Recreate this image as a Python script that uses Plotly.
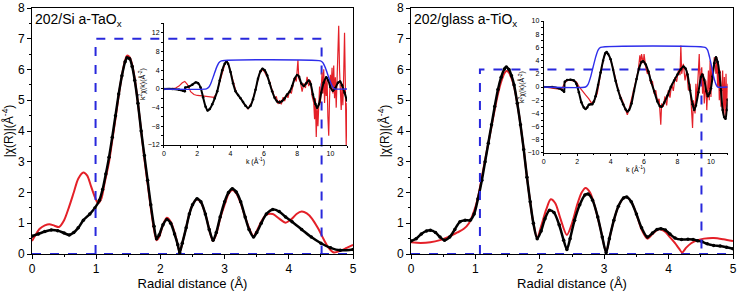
import plotly.graph_objects as go

# ---------------- Main R-space panel data ----------------
# Left panel: 202/Si a-TaOx
rL_data = [0,0.1,0.2,0.3,0.4,0.5,0.58,0.65,0.72,0.8,0.9,0.98,1.05,1.1,1.15,1.2,1.25,1.3,1.35,1.4,1.45,1.48,1.52,1.56,1.6,1.65,1.7,1.75,1.8,1.85,1.9,1.94,1.98,2.04,2.1,2.16,2.22,2.27,2.3,2.34,2.4,2.45,2.5,2.57,2.63,2.7,2.76,2.82,2.87,2.93,3.0,3.06,3.12,3.18,3.25,3.32,3.38,3.45,3.5,3.57,3.65,3.75,3.85,3.95,4.05,4.2,4.35,4.5,4.65,4.8,5.0]
yL_data = [0.58,0.65,0.73,0.78,0.76,0.68,0.62,0.7,0.85,1.1,1.3,1.5,1.75,2.1,2.6,3.15,3.8,4.5,5.2,5.8,6.25,6.38,6.35,6.1,5.65,4.9,4.0,3.2,2.4,1.6,0.9,0.5,0.62,0.95,1.12,1.0,0.65,0.3,0.05,0.35,0.85,1.3,1.6,1.8,1.7,1.3,0.8,0.45,0.7,1.2,1.7,2.0,2.12,2.02,1.7,1.2,0.8,0.55,0.7,1.0,1.3,1.45,1.38,1.2,1.05,0.8,0.55,0.35,0.2,0.12,0.15]
rL_fit = [0,0.05,0.12,0.2,0.27,0.35,0.42,0.5,0.58,0.65,0.72,0.8,0.86,0.92,0.98,1.03,1.08,1.13,1.2,1.25,1.3,1.35,1.4,1.45,1.48,1.52,1.56,1.6,1.65,1.7,1.75,1.8,1.85,1.9,1.94,1.98,2.04,2.1,2.16,2.22,2.27,2.3,2.34,2.4,2.45,2.5,2.57,2.63,2.7,2.76,2.82,2.87,2.93,3.0,3.06,3.12,3.18,3.25,3.32,3.38,3.45,3.5,3.57,3.65,3.75,3.85,3.95,4.05,4.12,4.2,4.28,4.36,4.45,4.55,4.62,4.7,4.8,4.9,5.0]
yL_fit = [0.42,0.6,0.82,0.93,0.97,0.92,0.88,1.1,1.55,2.0,2.45,2.65,2.55,2.2,1.85,1.65,1.8,2.3,3.0,3.7,4.4,5.15,5.8,6.3,6.45,6.4,6.15,5.7,4.9,4.0,3.1,2.3,1.5,0.8,0.45,0.55,0.95,1.18,1.05,0.7,0.3,0.05,0.35,0.85,1.3,1.6,1.78,1.68,1.3,0.8,0.42,0.65,1.15,1.6,1.95,2.08,1.98,1.65,1.2,0.85,0.58,0.75,1.05,1.28,1.3,1.15,1.02,1.15,1.3,1.38,1.32,1.15,0.85,0.45,0.2,0.05,0.1,0.2,0.3]
winL_x = [0.99, 0.99, 4.51, 4.51]
winL_y = [0, 7, 7, 0]

# Right panel: 202/glass a-TiOx
rR_data = [0,0.08,0.16,0.24,0.3,0.38,0.45,0.52,0.6,0.68,0.76,0.84,0.92,0.98,1.04,1.1,1.15,1.2,1.25,1.3,1.35,1.4,1.45,1.48,1.52,1.56,1.6,1.65,1.7,1.75,1.8,1.85,1.9,1.96,2.02,2.08,2.15,2.22,2.3,2.37,2.42,2.47,2.54,2.62,2.7,2.75,2.82,2.9,2.97,3.03,3.08,3.15,3.22,3.3,3.35,3.42,3.5,3.58,3.67,3.75,3.82,3.88,3.95,4.02,4.1,4.2,4.3,4.38,4.45,4.52,4.6,4.7,4.8,4.9,5.0]
yR_data = [0.42,0.5,0.65,0.75,0.77,0.7,0.55,0.45,0.55,0.8,1.05,1.1,1.1,1.3,1.8,2.4,3.0,3.6,4.2,4.8,5.35,5.75,6.02,6.08,6.0,5.8,5.5,4.9,4.2,3.4,2.5,1.7,1.0,0.5,0.75,1.15,1.42,1.35,0.95,0.45,0.15,0.5,1.1,1.6,1.92,1.95,1.75,1.2,0.55,0.05,0.5,1.1,1.55,1.82,1.85,1.7,1.3,0.85,0.55,0.68,0.8,0.82,0.78,0.65,0.52,0.47,0.48,0.47,0.43,0.4,0.33,0.28,0.26,0.22,0.17]
rR_fit = [0,0.15,0.3,0.45,0.6,0.72,0.82,0.9,0.98,1.04,1.1,1.15,1.2,1.25,1.3,1.35,1.4,1.45,1.48,1.52,1.56,1.6,1.65,1.7,1.75,1.8,1.85,1.9,1.96,2.02,2.1,2.17,2.24,2.32,2.42,2.5,2.58,2.65,2.71,2.78,2.86,2.95,3.03,3.08,3.15,3.22,3.3,3.35,3.42,3.5,3.58,3.67,3.75,3.82,3.88,3.95,4.02,4.1,4.16,4.21,4.27,4.35,4.45,4.55,4.7,4.85,5.0]
yR_fit = [0.38,0.36,0.38,0.45,0.57,0.7,0.82,1.0,1.4,1.85,2.5,3.05,3.6,4.15,4.7,5.2,5.6,5.88,5.95,5.9,5.72,5.45,4.9,4.2,3.4,2.5,1.7,1.0,0.52,0.9,1.45,1.78,1.65,1.15,0.62,1.0,1.6,2.0,2.15,2.0,1.5,0.75,0.05,0.5,1.1,1.55,1.82,1.85,1.7,1.3,0.8,0.5,0.65,0.78,0.8,0.72,0.55,0.35,0.18,0.05,0.2,0.35,0.45,0.5,0.52,0.48,0.42]
winR_x = [1.07, 1.07, 4.51, 4.51]
winR_y = [0, 6, 6, 0]

# ---------------- Inset k-space data ----------------
kL_data = [0,0.4,0.7,0.9,1.1,1.25,1.4,1.6,1.8,2.0,2.3,2.6,2.8,3.0,3.15,3.3,3.5,3.65,3.78,3.9,4.05,4.2,4.35,4.5,4.65,4.8,4.95,5.05,5.15,5.3,5.45,5.6,5.75,5.85,5.95,6.05,6.15,6.25,6.35,6.45,6.55,6.65,6.75,6.85,6.95,7.05,7.15,7.25,7.35,7.45,7.55,7.65,7.75,7.85,7.95,8.0,8.05,8.1,8.2,8.3,8.4,8.5,8.6,8.7,8.8,8.9,9.0,9.05,9.1,9.15,9.2,9.25,9.3,9.35,9.4,9.5,9.55,9.6,9.65,9.7,9.75,9.8,9.85,9.9,9.95,10.0,10.05,10.1,10.15,10.2,10.25,10.3,10.35,10.4,10.45,10.5,10.55,10.6,10.65,10.7,10.75,10.8,10.85,10.9,10.95,11.0]
cL_data = [0,0,0.2,0.6,1.3,1.6,1.0,-0.6,-1.2,-1.4,-1.5,-1.6,-1.8,-1.8,-1.0,0.8,3.5,5.2,6.0,5.0,3.0,0.8,-0.8,-1.6,-2.2,-3.2,-3.9,-4.3,-3.6,-2.8,-0.8,1.6,3.4,3.8,4.1,3.6,3.0,2.2,1.6,0.2,-0.6,-2.0,-1.6,-3.2,-2.4,-3.3,-1.8,-2.6,-1.2,-1.9,-0.3,-1.0,0.8,2.4,1.6,3.8,6.2,2.2,1.5,-0.6,1.2,0.2,2.6,0.6,1.8,-1.5,-3.0,-6.5,-2.0,-10.3,-3.5,-8.0,-4.5,0.5,-3.0,3.5,-1.0,4.2,-3.0,2.0,-1.5,2.5,-6.0,-10.0,-2.0,3.0,0.5,4.5,-1.0,5.0,-2.0,2.5,-4.0,0.5,7.0,13.5,4.0,-2.0,-4.5,1.0,-3.5,3.0,12.0,0.5,-12.0,-3.0]
kL_fit = [0,0.5,0.9,1.15,1.25,1.28,1.5,1.7,1.9,2.05,2.2,2.35,2.5,2.62,2.75,2.9,3.05,3.2,3.35,3.5,3.65,3.75,3.85,4.0,4.15,4.3,4.45,4.6,4.75,4.9,5.05,5.2,5.35,5.5,5.65,5.8,5.92,6.05,6.2,6.35,6.5,6.65,6.8,6.95,7.1,7.25,7.4,7.55,7.7,7.85,8.0,8.12,8.25,8.4,8.55,8.7,8.82,8.95,9.1,9.2,9.32,9.45,9.6,9.75,9.88,10.0,10.15,10.3,10.45,10.58,10.7,10.85,11.0]
cL_fit = [0,0,-0.2,-0.4,-0.5,0.3,0.5,0.9,1.4,1.2,0.3,-1.8,-3.8,-4.6,-4.3,-3.3,-2.0,-0.5,1.8,4.0,5.4,5.8,5.4,3.6,1.2,-0.5,-1.3,-2.0,-2.8,-3.6,-4.1,-3.6,-2.2,-0.2,2.2,3.8,4.3,4.0,2.9,1.2,-0.5,-1.9,-2.7,-2.9,-2.6,-2.0,-1.2,-0.6,0.6,2.2,3.0,2.6,1.2,0.6,1.2,1.8,1.0,-1.2,-3.2,-4.0,-3.2,-0.8,1.4,2.5,1.8,0.4,-0.4,0.2,1.3,1.6,0.8,-0.8,-2.5]
kL_win = [0,2.55,2.7,2.85,3.0,3.15,3.3,3.45,9.4,9.55,9.7,9.85,10.0,10.15,10.25,11]
wL_win = [0,0,0.4,1.5,3.0,4.5,5.6,6,6,5.6,4.5,3.0,1.5,0.4,0,0]

kR_data = [0,0.4,0.8,1.1,1.25,1.45,1.7,1.95,2.1,2.3,2.5,2.7,2.85,3.0,3.2,3.4,3.6,3.75,3.9,4.1,4.3,4.5,4.7,4.9,5.0,5.1,5.3,5.5,5.65,5.75,5.8,5.85,5.95,6.0,6.1,6.2,6.3,6.4,6.5,6.6,6.7,6.8,6.9,7.0,7.05,7.15,7.25,7.35,7.45,7.55,7.65,7.75,7.85,7.95,8.05,8.15,8.2,8.25,8.35,8.45,8.55,8.65,8.75,8.85,8.9,8.95,9.05,9.1,9.15,9.25,9.3,9.35,9.45,9.5,9.55,9.6,9.7,9.75,9.8,9.85,9.9,9.95,10.0,10.05,10.1,10.2,10.3,10.35,10.4,10.45,10.5,10.55,10.6,10.7,10.75,10.8,10.85,10.9,10.95,11.0]
cR_data = [0,-0.1,-0.3,-0.2,0.6,1.1,1.0,0.8,0.1,-0.6,-1.2,-1.8,-2.4,-2.2,-1.0,2.0,4.6,5.3,4.8,3.3,1.0,-0.9,-2.0,-3.4,-4.2,-3.4,-1.5,0.8,2.5,4.8,3.5,5.0,3.6,5.0,3.0,2.0,2.4,0.5,0.9,-1.0,-0.5,-2.2,-1.8,-5.7,-2.5,-3.0,-1.4,-2.8,-0.5,-1.6,0.5,-0.6,1.5,0.8,2.5,1.8,6.3,2.0,3.5,1.0,2.5,-0.5,0.5,-3.0,-6.2,-2.0,-4.0,0.5,-2.0,2.5,5.0,0.5,3.0,-1.0,2.0,-2.5,1.0,-3.5,-1.0,2.5,-2.0,4.0,-1.5,3.0,1.0,4.5,2.0,4.5,0.0,3.5,-2.0,2.5,-3.0,2.5,-4.0,1.5,-4.5,2.0,-3.0,0.5]
kR_fit = [0,0.5,0.9,1.1,1.22,1.26,1.4,1.6,1.8,1.95,2.1,2.25,2.4,2.5,2.6,2.7,2.8,2.9,3.0,3.1,3.25,3.4,3.55,3.68,3.76,3.85,4.0,4.15,4.3,4.45,4.6,4.75,4.9,5.0,5.1,5.25,5.4,5.55,5.7,5.85,5.95,6.1,6.25,6.4,6.6,6.8,6.95,7.05,7.2,7.4,7.6,7.8,8.0,8.2,8.35,8.48,8.6,8.75,8.9,9.0,9.1,9.25,9.4,9.48,9.6,9.72,9.82,9.92,10.0,10.1,10.2,10.3,10.4,10.5,10.6,10.7,10.8,10.87,10.95,11.0]
cR_fit = [0,0,-0.2,-0.45,-0.7,0.8,1.05,1.1,1.0,0.5,-0.8,-2.3,-3.1,-3.35,-3.1,-2.7,-2.6,-2.6,-2.2,-1.4,0.3,2.2,4.0,5.1,5.3,5.0,4.2,2.6,0.9,-0.5,-1.7,-2.6,-3.4,-3.7,-3.5,-2.5,-0.6,1.2,2.8,3.8,3.9,3.4,2.4,1.0,-0.6,-2.2,-2.9,-3.0,-2.4,-1.3,0.0,1.0,1.9,2.7,3.1,2.8,1.9,-0.5,-2.6,-3.5,-2.8,-0.8,1.5,1.9,1.1,-0.6,-1.4,-0.9,-0.2,1.6,3.6,4.5,3.8,2.2,-0.5,-3.5,-4.6,-4.8,-3.5,-1.9]
kR_win = [0,2.5,2.65,2.8,2.95,3.1,3.25,3.4,9.65,9.8,9.92,10.05,10.17,10.3,10.4,11]
wR_win = [0,0,0.4,1.5,3.0,4.5,5.6,6,6,5.6,4.5,3.0,1.5,0.4,0,0]

RED = "rgb(228,32,40)"
BLUE_D = "rgb(40,40,220)"
BLUE = "rgb(45,45,235)"
FONT = "Liberation Sans, Arial, sans-serif"

fig = go.Figure()

def main_panel(xa, ya, rd, yd, rf, yf, wx, wy):
    fig.add_trace(go.Scatter(x=[0, 5], y=[0, 0], mode="lines", xaxis=xa, yaxis=ya,
                             line=dict(color=BLUE_D, width=2, dash="dash"), showlegend=False))
    fig.add_trace(go.Scatter(x=rf, y=yf, mode="lines", xaxis=xa, yaxis=ya,
                             line=dict(color=RED, width=2, shape="spline", smoothing=0.8), showlegend=False))
    fig.add_trace(go.Scatter(x=rd, y=yd, mode="lines+markers", xaxis=xa, yaxis=ya,
                             line=dict(color="black", width=2.5, shape="spline", smoothing=0.8),
                             marker=dict(color="black", size=3.5), showlegend=False))
    fig.add_trace(go.Scatter(x=wx, y=wy, mode="lines", xaxis=xa, yaxis=ya,
                             line=dict(color=BLUE_D, width=2, dash="dash"), showlegend=False))

def inset_panel(xa, ya, kd, cd, kf, cf, kw, ww):
    fig.add_trace(go.Scatter(x=kd, y=cd, mode="lines", xaxis=xa, yaxis=ya,
                             line=dict(color=RED, width=1.2), showlegend=False))
    fig.add_trace(go.Scatter(x=kf, y=cf, mode="lines+markers", xaxis=xa, yaxis=ya,
                             line=dict(color="black", width=2, shape="spline", smoothing=0.7),
                             marker=dict(color="black", size=2.5), showlegend=False))
    fig.add_trace(go.Scatter(x=kw, y=ww, mode="lines", xaxis=xa, yaxis=ya,
                             line=dict(color=BLUE, width=1.4, shape="spline", smoothing=0.5), showlegend=False))

main_panel("x", "y", rL_data, yL_data, rL_fit, yL_fit, winL_x, winL_y)
main_panel("x2", "y2", rR_data, yR_data, rR_fit, yR_fit, winR_x, winR_y)
inset_panel("x3", "y3", kL_data, cL_data, kL_fit, cL_fit, kL_win, wL_win)
inset_panel("x4", "y4", kR_data, cR_data, kR_fit, cR_fit, kR_win, wR_win)

main_x = dict(range=[0, 5], dtick=1, showline=True, linecolor="black", linewidth=1, mirror=True,
              ticks="outside", ticklen=4, tickcolor="black", showgrid=False, zeroline=False,
              automargin=False,
              minor=dict(ticks="outside", ticklen=2, dtick=0.5, tickcolor="black"),
              tickfont=dict(size=12, color="black"),
              title=dict(text="Radial distance (Å)", font=dict(size=13, color="black"), standoff=3))
main_y = dict(range=[0, 8], dtick=1, showline=True, linecolor="black", linewidth=1, mirror=True,
              ticks="outside", ticklen=4, tickcolor="black", showgrid=False, zeroline=False,
              automargin=False,
              minor=dict(ticks="outside", ticklen=2, dtick=0.5, tickcolor="black"),
              tickfont=dict(size=12, color="black"), domain=[0, 1],
              title=dict(text="|χ(R)|(Å<sup>-4</sup>)", font=dict(size=12, color="black"), standoff=4))
ins_x = dict(range=[0, 11], dtick=2, showline=True, linecolor="black", linewidth=1,
             ticks="outside", ticklen=2, tickcolor="black", showgrid=False, zeroline=False,
             automargin=False,
             minor=dict(ticks="outside", ticklen=1.5, dtick=1, tickcolor="black"),
             tickfont=dict(size=7, color="black"),
             title=dict(text="k (Å<sup>-1</sup>)", font=dict(size=7, color="black"), standoff=2))
ins_y = dict(showline=True, linecolor="black", linewidth=1,
             ticks="outside", ticklen=2, tickcolor="black", showgrid=False, zeroline=False,
             automargin=False,
             tickfont=dict(size=7, color="black"),
             title=dict(text="k<sup>2</sup>χ(k)(Å<sup>-2</sup>)", font=dict(size=7, color="black"), standoff=1))

fig.update_layout(
    width=739, height=292,
    margin=dict(l=32, r=6, t=8, b=38),
    paper_bgcolor="white", plot_bgcolor="rgba(0,0,0,0)",
    font=dict(family=FONT, color="black"),
    xaxis=dict(main_x, domain=[0, 0.458], anchor="y"),
    yaxis=dict(main_y, anchor="x"),
    xaxis2=dict(main_x, domain=[0.5407, 1.0], anchor="y2"),
    yaxis2=dict(main_y, anchor="x2"),
    xaxis3=dict(ins_x, domain=[0.1883, 0.4494], anchor="y3"),
    yaxis3=dict(ins_y, domain=[0.443, 0.939], anchor="x3", range=[-12, 14.1],
                tickvals=[-12, -8, -4, 0, 4, 8, 12],
                minor=dict(ticks="outside", ticklen=1.5, dtick=2, tickcolor="black")),
    xaxis4=dict(ins_x, domain=[0.730, 0.9924], anchor="y4"),
    yaxis4=dict(ins_y, domain=[0.4106, 0.947], anchor="x4", range=[-10, 10], dtick=2,
                minor=dict(ticks="outside", ticklen=1.5, dtick=1, tickcolor="black")),
    annotations=[
        dict(text="202/Si a-TaO<sub>x</sub>", xref="x", yref="y", x=0.02, y=7.6,
             xanchor="left", yanchor="middle", showarrow=False, font=dict(size=14, color="black")),
        dict(text="202/glass a-TiO<sub>x</sub>", xref="x2", yref="y2", x=0.02, y=7.6,
             xanchor="left", yanchor="middle", showarrow=False, font=dict(size=14, color="black")),
    ],
)

fig.write_html("out.html", config={"displayModeBar": False},
               post_script="document.body.style.margin='0';document.body.style.overflow='hidden';")
